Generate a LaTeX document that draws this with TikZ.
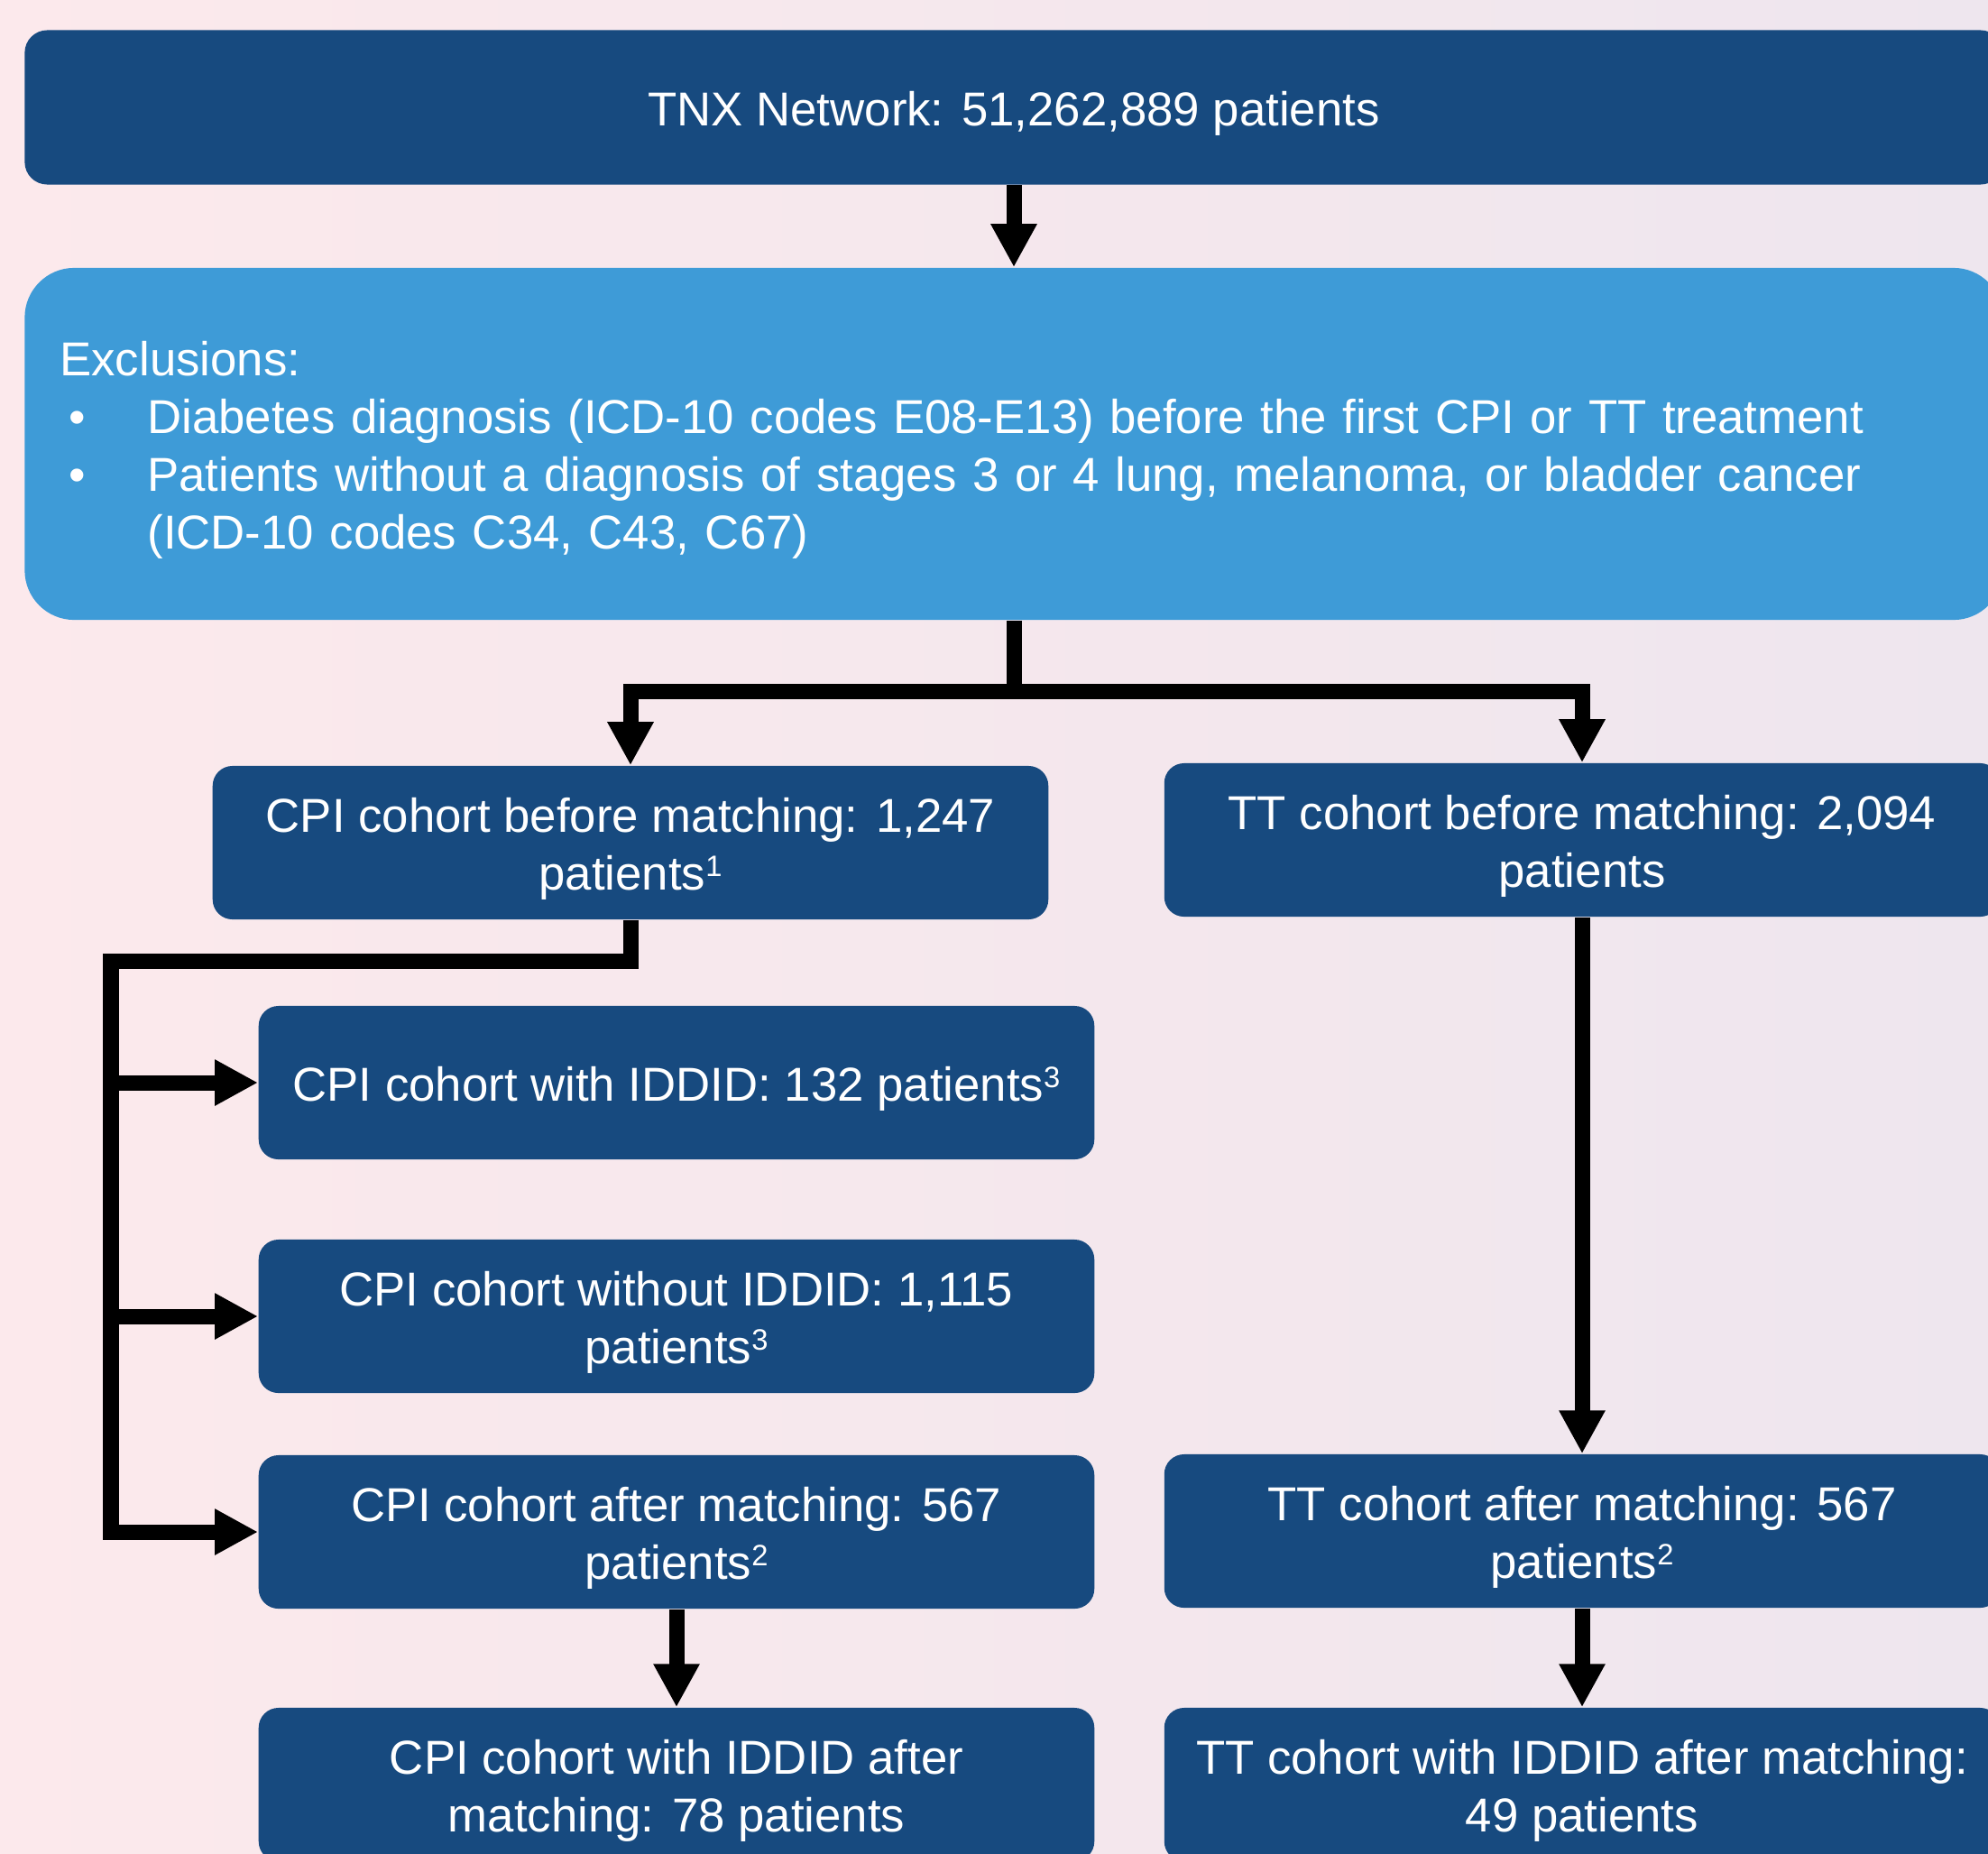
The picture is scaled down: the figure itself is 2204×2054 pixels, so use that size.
\documentclass[tikz,border=0pt]{standalone}
\usepackage{fontspec}
\setmainfont{Liberation Sans}
\usetikzlibrary{arrows.meta}
\definecolor{darkBlue}{RGB}{23,74,127}
\definecolor{lightBlue}{RGB}{62,155,215}
\definecolor{bgPink}{RGB}{252,233,236}
\definecolor{bgLilac}{RGB}{238,230,238}
\tikzstyle{normalBox} = [shape=rectangle, text=white, align=center,
	fill=darkBlue, rounded corners=0.22cm, font=\fontsize{15}{18.2}\selectfont]
\tikzstyle{alternBox} = [shape=rectangle, text=white, align=left,
	fill=lightBlue, rounded corners=0.55cm, font=\fontsize{15}{18.2}\selectfont]
\tikzstyle{WideBox} = [normalBox, minimum width=21.92cm, minimum height=1.71cm, rounded corners=0.25cm]
\tikzstyle{NormalBox} = [normalBox, minimum width=9.26cm, minimum height=1.70cm]
\tikzstyle{AlternBox} = [alternBox, minimum width=21.92cm, minimum height=3.90cm,
	text width=21.14cm, inner xsep=0.39cm]
\tikzstyle{flowLine} = [line width=0.17cm, black]
\tikzstyle{flowArrow} = [flowLine, -{Triangle[length=0.48cm, width=0.48cm]}]
\newcommand{\bulletItem}{\hspace*{0.1cm}\makebox[0.87cm][l]{•}}
\newcommand{\supNum}[1]{\raisebox{4.3pt}{\fontsize{9.3}{9.3}\selectfont #1}}
\newcommand{\topStrut}{\rule{0pt}{1em}}

\begin{document}
\begin{tikzpicture}[x=0.01cm, y=-0.01cm]
  \clip (0,0) rectangle (2204,2054);
  \shade[left color=bgPink, right color=bgLilac] (0,0) rectangle (2204,2054);

  \node (TNX) [WideBox] at (1124,119) {\topStrut TNX Network: 51,262,889 patients};
  \node (EXC) [AlternBox] at (1124,492) {\topStrut Exclusions:\\
    \bulletItem Diabetes diagnosis (ICD-10 codes E08-E13) before the first CPI or TT treatment\\
    \bulletItem Patients without a diagnosis of stages 3 or 4 lung, melanoma, or bladder cancer\\
    \hspace*{0.97cm}(ICD-10 codes C34, C43, C67)};

  \node (CPIB) [NormalBox] at (699,934) {\topStrut CPI cohort before matching: 1,247\\patients\supNum{1}};
  \node (TTB) [NormalBox] at (1754,931) {\topStrut TT cohort before matching: 2,094\\patients};

  \node (CPIW) [NormalBox] at (750,1200) {\topStrut CPI cohort with IDDID: 132 patients\supNum{3}};
  \node (CPIWO) [NormalBox] at (750,1459) {\topStrut CPI cohort without IDDID: 1,115\\patients\supNum{3}};
  \node (CPIA) [NormalBox] at (750,1698) {\topStrut CPI cohort after matching: 567\\patients\supNum{2}};
  \node (TTA) [NormalBox] at (1754,1697) {\topStrut TT cohort after matching: 567\\patients\supNum{2}};

  \node (CPIM) [NormalBox] at (750,1978) {\topStrut CPI cohort with IDDID after\\matching: 78 patients};
  \node (TTM) [NormalBox] at (1754,1978) {\topStrut TT cohort with IDDID after matching:\\49 patients};

  % connectors
  \coordinate (split) at (1124,766);
  \coordinate (trunk) at (123,1065);
  \draw[flowArrow] (TNX.south) -- (EXC.north);
  \draw[flowLine] (EXC.south) -- (split);
  \draw[flowArrow] (split) -| (CPIB.north);
  \draw[flowArrow] (split) -| (TTB.north);
  \draw[flowArrow] (CPIB.south) |- (trunk) |- (CPIA.west);
  \draw[flowArrow] (trunk |- CPIW.west) -- (CPIW.west);
  \draw[flowArrow] (trunk |- CPIWO.west) -- (CPIWO.west);
  \draw[flowArrow] (TTB.south) -- (TTA.north);
  \draw[flowArrow] (CPIA.south) -- (CPIM.north);
  \draw[flowArrow] (TTA.south) -- (TTM.north);

\end{tikzpicture}
\end{document}
